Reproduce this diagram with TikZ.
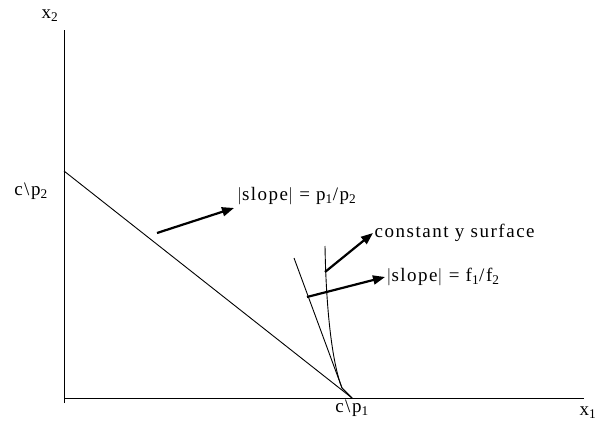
\documentclass[tikz,border=0pt]{standalone}
\usepackage{fontspec}
\setmainfont[LetterSpace=8]{Liberation Serif}
\usetikzlibrary{positioning,calc,arrows.meta}

\tikzset{
  axisline/.style={line width=0.9pt},
  fatarrow/.style={line width=2.2pt, -{Triangle[length=12pt,width=9pt]}},
  lbl/.style={inner sep=1.5pt, font=\fontsize{19}{22}\selectfont}
}

\begin{document}
\begin{tikzpicture}[x=1pt, y=1pt, every node/.style={lbl}]
\useasboundingbox (-64,-23) rectangle (532,398);

% axes
\coordinate (O) at (0,0);
\coordinate (ytop) at (0,368);
\coordinate (ybot) at (0,-5);
\coordinate (xend) at (520,0);
\draw[axisline] (ybot) -- (ytop);
\draw[axisline] (O) -- (xend);

% intercepts
\coordinate (ctwo) at (0,227);
\coordinate (cone) at (288,0);
\node (xtwo) at (-14,382) {x\textsubscript{2}};
\node (xone) at (524,-15) {x\textsubscript{1}};
\node (ptwo) at (-33,207) {c\textbackslash p\textsubscript{2}};
\node (pone) [below=0pt of cone] {c\textbackslash p\textsubscript{1}};

% budget line, tangent line and isoquant
\draw[axisline] (ctwo) -- (cone);
\coordinate (ttop) at (230,140);
\coordinate (join) at (278,10);
\draw[axisline] (ttop) -- (join) -- (cone);
\coordinate (qtop) at (261,152);
\draw[axisline] (qtop) .. controls (262,90) and (268,35) .. (join) -- (cone);

% labels and arrows
\node (pslope) [anchor=south west, inner sep=3pt] at (170,190) {$|$slope$|$ = p\textsubscript{1}/p\textsubscript{2}};
\node (surf) [anchor=west] at (309,165) {constant y surface};
\node (fslope) [anchor=west] at (321,121) {$|$slope$|$ = f\textsubscript{1}/f\textsubscript{2}};

\coordinate (ptail) at (93,165);
\coordinate (stail) at (261,126);
\coordinate (ftail) at (243,101);
\draw[fatarrow] (ptail) -- (pslope.south west);
\draw[fatarrow] (stail) -- (surf.west);
\draw[fatarrow] (ftail) -- (fslope.west);
\end{tikzpicture}
\end{document}
